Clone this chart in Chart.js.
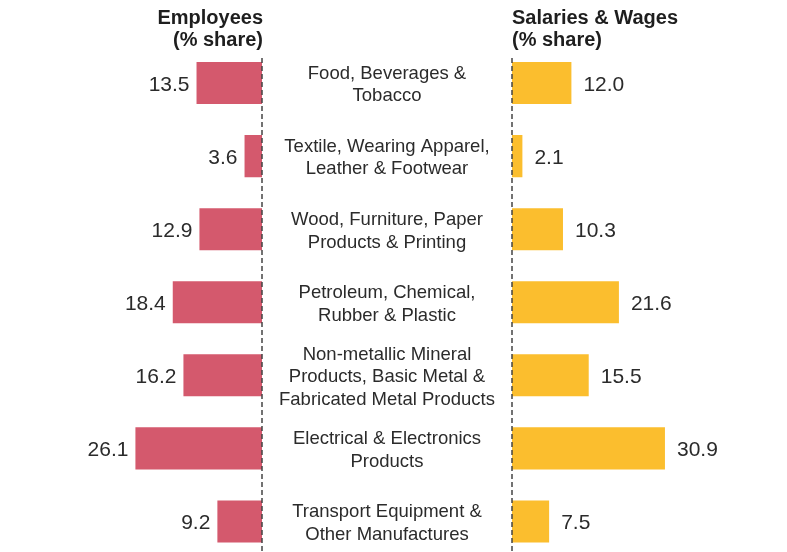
<!DOCTYPE html>
<html>
<head>
<meta charset="utf-8">
<script src="https://cdn.jsdelivr.net/npm/chart.js@4"></script>
<style>
  html, body { margin: 0; padding: 0; background: #fff; overflow: hidden; }
  #wrap { position: relative; width: 787px; height: 552px; }
  canvas { position: absolute; top: 0; }
  #chart-left  { left: 0; }
  #chart-right { left: 262px; }
</style>
</head>
<body>
<div id="wrap">
  <canvas id="chart-left" width="266" height="558"></canvas>
  <canvas id="chart-right" width="525" height="558"></canvas>
</div>
<script>
(function () {
  "use strict";

  // ── Data ───────────────────────────────────
  const CATEGORIES = [
    ["Food, Beverages &", "Tobacco"],
    ["Textile, Wearing Apparel,", "Leather & Footwear"],
    ["Wood, Furniture, Paper", "Products & Printing"],
    ["Petroleum, Chemical,", "Rubber & Plastic"],
    ["Non-metallic Mineral", "Products, Basic Metal &", "Fabricated Metal Products"],
    ["Electrical & Electronics", "Products"],
    ["Transport Equipment &", "Other Manufactures"]
  ];
  const EMPLOYEES = [13.5, 3.6, 12.9, 18.4, 16.2, 26.1, 9.2];
  const SALARIES  = [12.0, 2.1, 10.3, 21.6, 15.5, 30.9, 7.5];
  const TITLE_LEFT  = ["Employees", "(% share)"];
  const TITLE_RIGHT = ["Salaries & Wages", "(% share)"];

  // ── Style ──────────────────────────────────
  const FONT = "'Liberation Sans', Arial, Helvetica, sans-serif";
  const RED = "#d4596d";
  const YELLOW = "#fbbe2e";
  const TEXT = "#2b2b2b";
  const ROW_TOP = 46.5;   // top of first category band

  Chart.defaults.font.family = FONT;
  Chart.defaults.animation = false;

  // ── Plugins ────────────────────────────────
  function valueLabels(side) {
    return {
      id: "valueLabels",
      afterDatasetsDraw(chart) {
        const ctx = chart.ctx;
        const meta = chart.getDatasetMeta(0);
        ctx.save();
        ctx.font = "21px " + FONT;
        ctx.fillStyle = TEXT;
        ctx.textBaseline = "middle";
        meta.data.forEach((bar, i) => {
          const v = chart.data.datasets[0].data[i].toFixed(1);
          if (side === "left") {
            ctx.textAlign = "right";
            ctx.fillText(v, bar.x - 7, bar.y + 2);
          } else {
            ctx.textAlign = "left";
            ctx.fillText(v, bar.x + 12, bar.y + 2);
          }
        });
        ctx.restore();
      }
    };
  }

  function zeroLine() {
    return {
      id: "zeroLine",
      afterDatasetsDraw(chart) {
        const ctx = chart.ctx;
        const x = chart.scales.x.getPixelForValue(0);
        ctx.save();
        ctx.strokeStyle = "#444";
        ctx.lineWidth = 1.5;
        ctx.setLineDash([5, 3]);
        ctx.beginPath();
        ctx.moveTo(x, 58);
        ctx.lineTo(x, chart.height);
        ctx.stroke();
        ctx.restore();
      }
    };
  }

  function header(lines, side) {
    return {
      id: "header",
      afterDraw(chart) {
        const ctx = chart.ctx;
        const area = chart.chartArea;
        ctx.save();
        ctx.font = "bold 20px " + FONT;
        ctx.fillStyle = "#1e1e1e";
        ctx.textBaseline = "middle";
        ctx.textAlign = side === "left" ? "right" : "left";
        const x = side === "left" ? area.right + 1 : area.left;
        lines.forEach((t, k) => ctx.fillText(t, x, 18 + k * 22));
        ctx.restore();
      }
    };
  }

  function categoryLabels() {
    return {
      id: "categoryLabels",
      afterDraw(chart) {
        const ctx = chart.ctx;
        const y = chart.scales.y;
        const cx = chart.chartArea.left - 125;
        ctx.save();
        ctx.font = "18.5px " + FONT;
        ctx.fillStyle = TEXT;
        ctx.textAlign = "center";
        ctx.textBaseline = "middle";
        CATEGORIES.forEach((lines, i) => {
          const cy = y.getPixelForValue(i) + 2;
          lines.forEach((t, k) => {
            ctx.fillText(t, cx, cy + (k - (lines.length - 1) / 2) * 22.5);
          });
        });
        ctx.restore();
      }
    };
  }

  function barConfig(values, color, side, max) {
    return {
      type: "bar",
      data: {
        labels: CATEGORIES.map((c) => c.join(" ")),
        datasets: [{
          data: values,
          backgroundColor: color,
          borderWidth: 0,
          categoryPercentage: 42 / 73,
          barPercentage: 1
        }]
      },
      options: {
        indexAxis: "y",
        responsive: false,
        devicePixelRatio: 1,
        layout: {
          padding: side === "left"
            ? { top: ROW_TOP, bottom: 0, left: 0, right: 4 }
            : { top: ROW_TOP, bottom: 0, left: 250, right: 0 }
        },
        plugins: { legend: { display: false }, tooltip: { enabled: false } },
        scales: {
          x: { type: "linear", min: 0, max, reverse: side === "left", display: false },
          y: { type: "category", display: false }
        }
      }
    };
  }

  // ── Charts ─────────────────────────────────
  const left = barConfig(EMPLOYEES, RED, "left", 262 / 4.85);
  left.plugins = [valueLabels("left"), zeroLine(), header(TITLE_LEFT, "left")];
  new Chart(document.getElementById("chart-left"), left);

  const right = barConfig(SALARIES, YELLOW, "right", 275 / 4.95);
  right.plugins = [valueLabels("right"), zeroLine(), header(TITLE_RIGHT, "right"), categoryLabels()];
  new Chart(document.getElementById("chart-right"), right);
})();
</script>
</body>
</html>
